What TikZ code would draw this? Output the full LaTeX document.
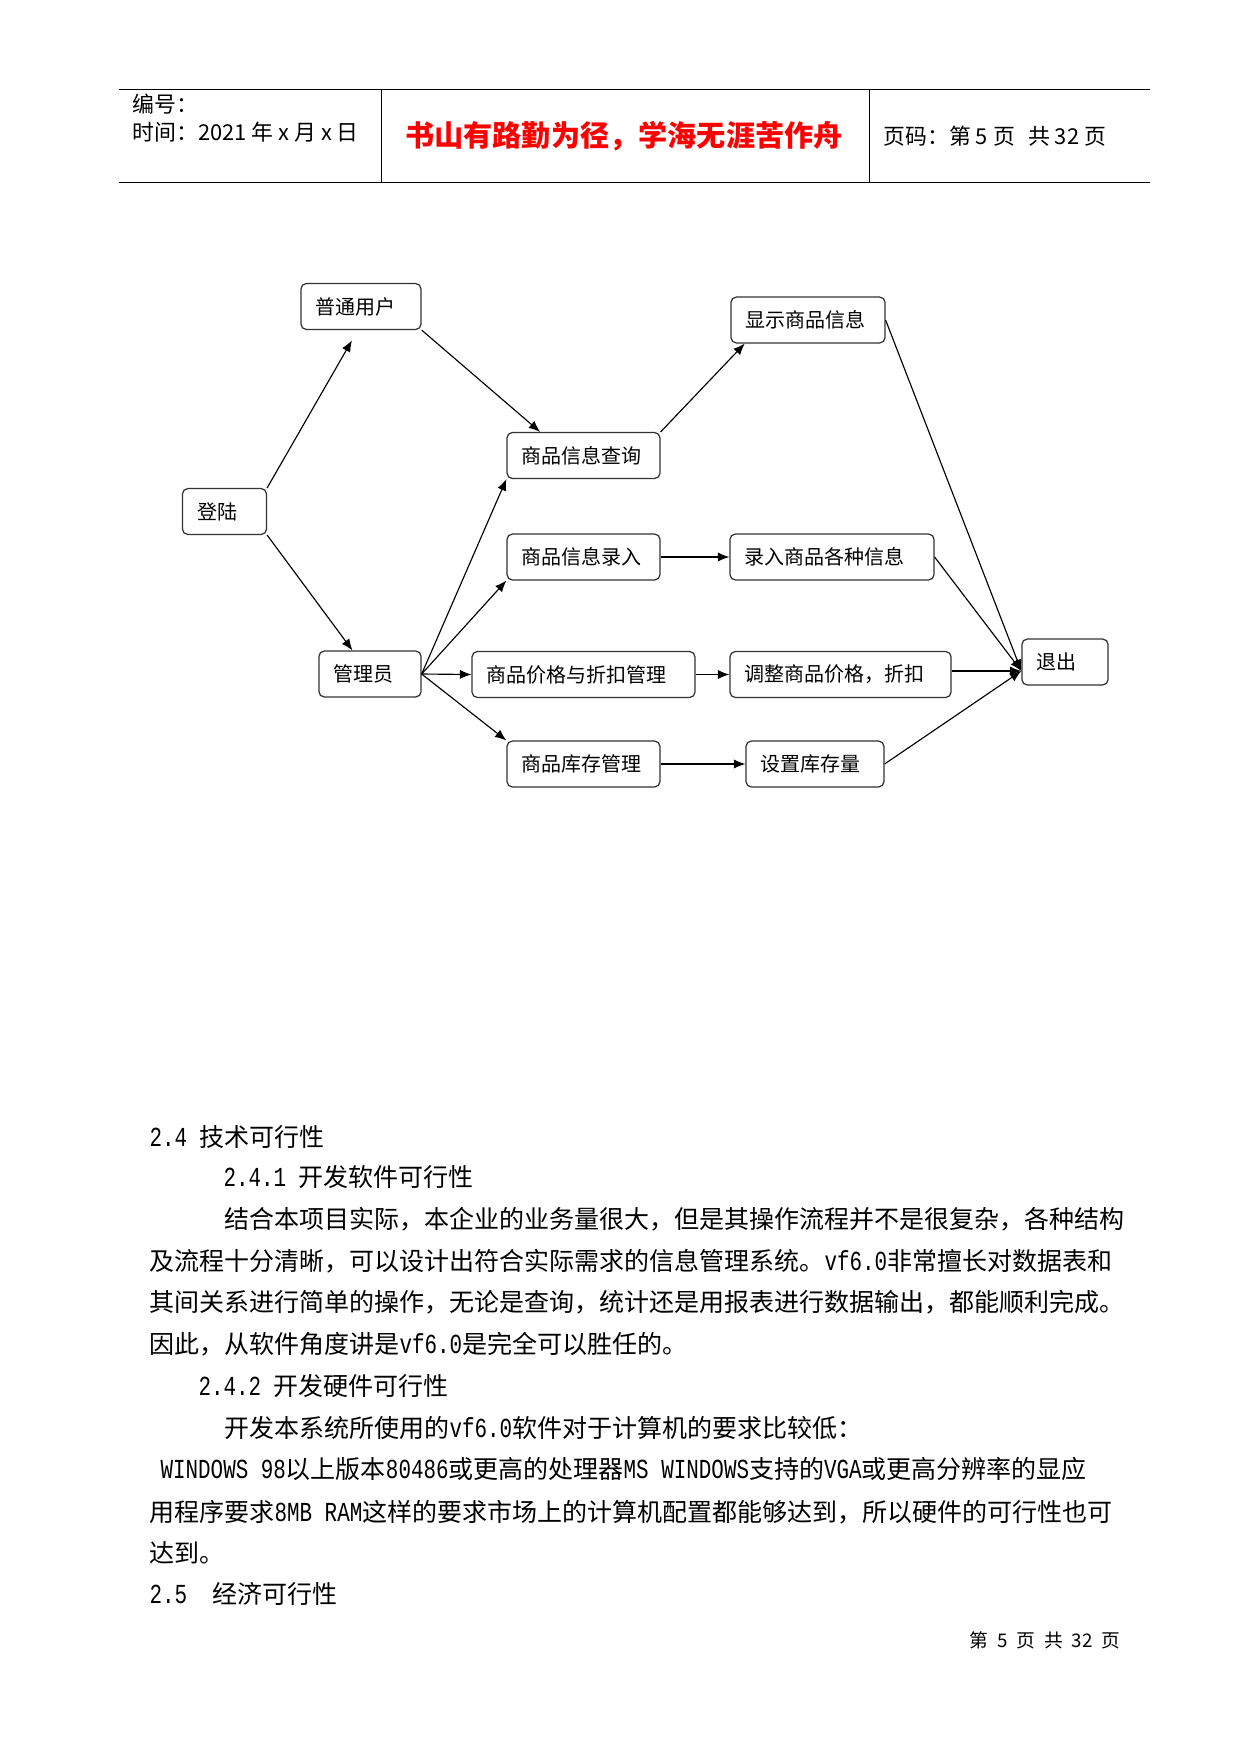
\documentclass[tikz,border=0pt]{standalone}
\usepackage{fontspec}
\setmainfont{Noto Sans CJK SC}
\newfontfamily\latinfont[Scale=1.1,FakeStretch=0.76]{Liberation Mono}
\usetikzlibrary{arrows.meta}
\newcommand\lat[1]{{\latinfont #1}}
\begin{document}
\begin{tikzpicture}[x=0.48pt,y=-0.48pt,every node/.style={font=\fontsize{9.6}{11}\selectfont},>={Latex[length=5.5pt,width=4.4pt]},line width=0.55pt]
\tikzset{box/.style={draw=black!80,line width=0.6pt,rounded corners=2.5pt,align=left,minimum height=22pt,inner xsep=7pt,inner ysep=2pt}, hd/.style={anchor=west,inner sep=0pt,font=\fontsize{10.5}{12}\selectfont}, body/.style={anchor=west,inner sep=0pt,font=\fontsize{12}{14}\selectfont}, rule/.style={line width=0.7pt}}
\useasboundingbox (0,0) rectangle (1241,1754);
% page header
\draw[rule] (118.6,89.5) -- (1150,89.5);
\draw[rule] (118.6,182.4) -- (1150,182.4);
\draw[rule] (381.6,89.5) -- (381.6,182.4);
\draw[rule] (869.5,89.5) -- (869.5,182.4);
\node[hd] (serial) at (132,104) {编号：};
\node[hd] (date) at (132,132) {时间：2021 年 x 月 x 日};
\node[inner sep=0pt,text=red,font=\fontsize{14}{16}\selectfont\bfseries] (motto) at (624,136.5) {书山有路勤为径，学海无涯苦作舟};
\node[hd] (pageno) at (883,136.5) {页码：第 5 页\hspace{4pt} 共 32 页};
% flow chart
\node[box,text width=43.6pt] (user) at (361,306.5) {普通用户};
\node[box,text width=59.4pt] (query) at (583.5,455.5) {商品信息查询};
\node[box,text width=26.3pt] (login) at (224.5,511.5) {登陆};
\node[box,text width=59.9pt] (show) at (808,320) {显示商品信息};
\node[box,text width=59.4pt] (entry) at (583.5,557) {商品信息录入};
\node[box,text width=83.9pt] (record) at (832,557) {录入商品各种信息};
\node[box,text width=35pt] (admin) at (370,674) {管理员};
\node[box,text width=93pt] (price) at (583.5,674.5) {商品价格与折扣管理};
\node[box,text width=92.1pt] (adjust) at (840.5,674.5) {调整商品价格，折扣};
\node[box,text width=27.3pt] (quit) at (1065,662) {退出};
\node[box,text width=59.4pt] (stock) at (583.5,764) {商品库存管理};
\node[box,text width=52.2pt] (setstock) at (815,764) {设置库存量};
\draw[->,shorten >=5.7pt] (login.north east) -- ([xshift=-1.5pt]user.south);
\draw[->] (login.south east) -- ([xshift=-8.4pt]admin.north);
\draw[->] (user.south east) -- ([xshift=-20.8pt]query.north);
\draw[->] (query.north east) -- ([xshift=6.9pt]show.south west);
\foreach \t/\a in {query/south west,entry/south west,price/west,stock/north west}
  \draw[->] (admin.east) -- (\t.\a);
\draw[->] (entry.east) -- (record.west);
\draw[->] (price.east) -- (adjust.west);
\draw[->] (stock.east) -- (setstock.west);
\coordinate (quitin) at ([yshift=-4.3pt]quit.west);
\foreach \s in {show,record,setstock}
  \draw[->] (\s.east) -- (quitin);
\draw[->] (adjust.east |- quitin) -- (quitin);
% body text
\node[body] (h24) at (149,1137) {\lat{2.4 }技术可行性};
\node[body] (h241) at (223,1177) {\lat{2.4.1 }开发软件可行性};
\node[body] (p1a) at (224,1219) {结合本项目实际，本企业的业务量很大，但是其操作流程并不是很复杂，各种结构};
\node[body] (p1b) at (149,1261) {及流程十分清晰，可以设计出符合实际需求的信息管理系统。\lat{vf6.0}非常擅长对数据表和};
\node[body] (p1c) at (149,1302) {其间关系进行简单的操作，无论是查询，统计还是用报表进行数据输出，都能顺利完成。};
\node[body] (p1d) at (149,1344) {因此，从软件角度讲是\lat{vf6.0}是完全可以胜任的。};
\node[body] (h242) at (198,1386) {\lat{2.4.2 }开发硬件可行性};
\node[body] (p2a) at (224,1428) {开发本系统所使用的\lat{vf6.0}软件对于计算机的要求比较低：};
\node[body] (p2b) at (160,1469) {\lat{WINDOWS 98}以上版本\lat{80486}或更高的处理器\lat{MS WINDOWS}支持的\lat{VGA}或更高分辨率的显应};
\node[body] (p2c) at (149,1512) {用程序要求\lat{8MB RAM}这样的要求市场上的计算机配置都能够达到，所以硬件的可行性也可};
\node[body] (p2d) at (149,1553) {达到。};
\node[body] (h25) at (149,1594) {\lat{2.5\ \ }经济可行性};
% page footer
\node[anchor=east,inner sep=0pt,font=\fontsize{9}{11}\selectfont] (footer) at (1121,1640) {\spaceskip=4.3pt\relax 第 5 页 共 32 页};
\end{tikzpicture}
\end{document}
